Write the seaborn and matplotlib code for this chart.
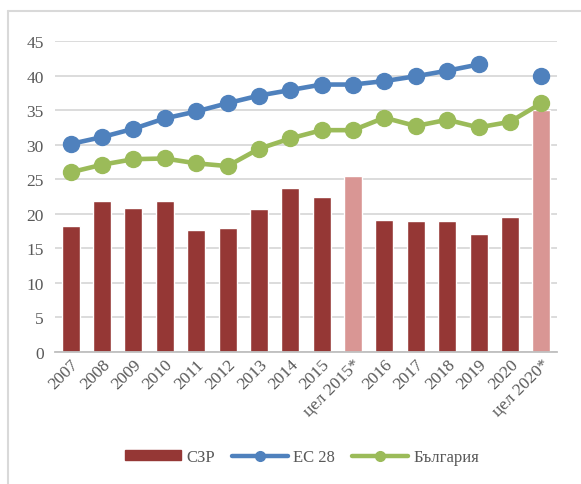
import numpy as np
import pandas as pd
import matplotlib
matplotlib.use("Agg")
import matplotlib.pyplot as plt
import seaborn as sns
from matplotlib.lines import Line2D
from matplotlib.patches import Patch

# Data
categories = ["2007", "2008", "2009", "2010", "2011", "2012", "2013", "2014", "2015",
              "цел 2015*", "2016", "2017", "2018", "2019", "2020", "цел 2020*"]
szr = [18.2, 21.8, 20.8, 21.8, 17.6, 17.9, 20.7, 23.8, 22.5,
       25.4, 19.1, 18.9, 18.9, 17.1, 19.5, 35.0]
eu28 = [30.1, 31.1, 32.3, 33.8, 34.8, 36.0, 37.1, 37.9, 38.7,
        38.7, 39.2, 39.9, 40.7, 41.6, np.nan, 40.0]
bulgaria = [26.0, 27.1, 27.9, 28.0, 27.3, 26.9, 29.4, 30.9, 32.1,
            32.1, 33.9, 32.7, 33.6, 32.5, 33.3, 36.0]

sns.set_style("white")
plt.rcParams['font.family'] = ['Liberation Serif', 'DejaVu Serif']

dark_red = "#953735"
pink = "#D99694"
blue = "#4F81BD"
green = "#9BBB59"
grey_txt = "#595959"

bar_colors = [pink if c.startswith("цел") else dark_red for c in categories]

df = pd.DataFrame({"cat": categories, "szr": szr, "eu": eu28, "bg": bulgaria})

fig = plt.figure(figsize=(5.81, 4.85), dpi=100)
ax = fig.add_axes([55/581, 1-353/485, 502/581, 311/485])

sns.barplot(data=df, x="cat", y="szr", hue="cat", palette=bar_colors,
            legend=False, width=0.57, ax=ax, saturation=1)

xs = np.arange(len(categories))
ax.plot(xs, df["eu"], color=blue, lw=3.3, marker="o", ms=11.5, zorder=3)
ax.plot(xs, df["bg"], color=green, lw=3.3, marker="o", ms=11.5, zorder=3)

ax.set_ylim(0, 45)
ax.set_xlim(-0.5, len(categories) - 0.5)
ax.set_yticks(range(0, 46, 5))
ax.yaxis.grid(True, color="#D9D9D9", lw=1.3)
ax.set_axisbelow(True)
for s in ["top", "right", "left"]:
    ax.spines[s].set_visible(False)
ax.spines["bottom"].set_color("#BFBFBF")
ax.spines["bottom"].set_linewidth(1.3)
ax.set_xlabel("")
ax.set_ylabel("")
ax.tick_params(axis="both", length=0, colors=grey_txt, labelsize=12.5)
ax.tick_params(axis="y", pad=8)
ax.tick_params(axis="x", pad=3)
ax.set_xticks(xs)
ax.set_xticklabels(categories, rotation=45, ha="right", rotation_mode="anchor")

handles = [Patch(color=dark_red),
           Line2D([], [], color=blue, lw=3.2, marker="o", ms=7),
           Line2D([], [], color=green, lw=3.2, marker="o", ms=7)]
fig.legend(handles, ["СЗР", "ЕС 28", "България"], loc="center",
           bbox_to_anchor=(302/581, 1-458/485), ncol=3, frameon=False,
           fontsize=12, labelcolor=grey_txt, handlelength=3.4,
           handleheight=0.5, columnspacing=1.0, handletextpad=0.3)

# chart frame (only top and left edges visible)
fig.add_artist(Line2D([8/581, 8/581], [0, 1-12/485], color="#D9D9D9", lw=1.5))
fig.add_artist(Line2D([8/581, 1], [1-12/485, 1-12/485], color="#D9D9D9", lw=1.5))

fig.savefig("out.png", dpi=100)
